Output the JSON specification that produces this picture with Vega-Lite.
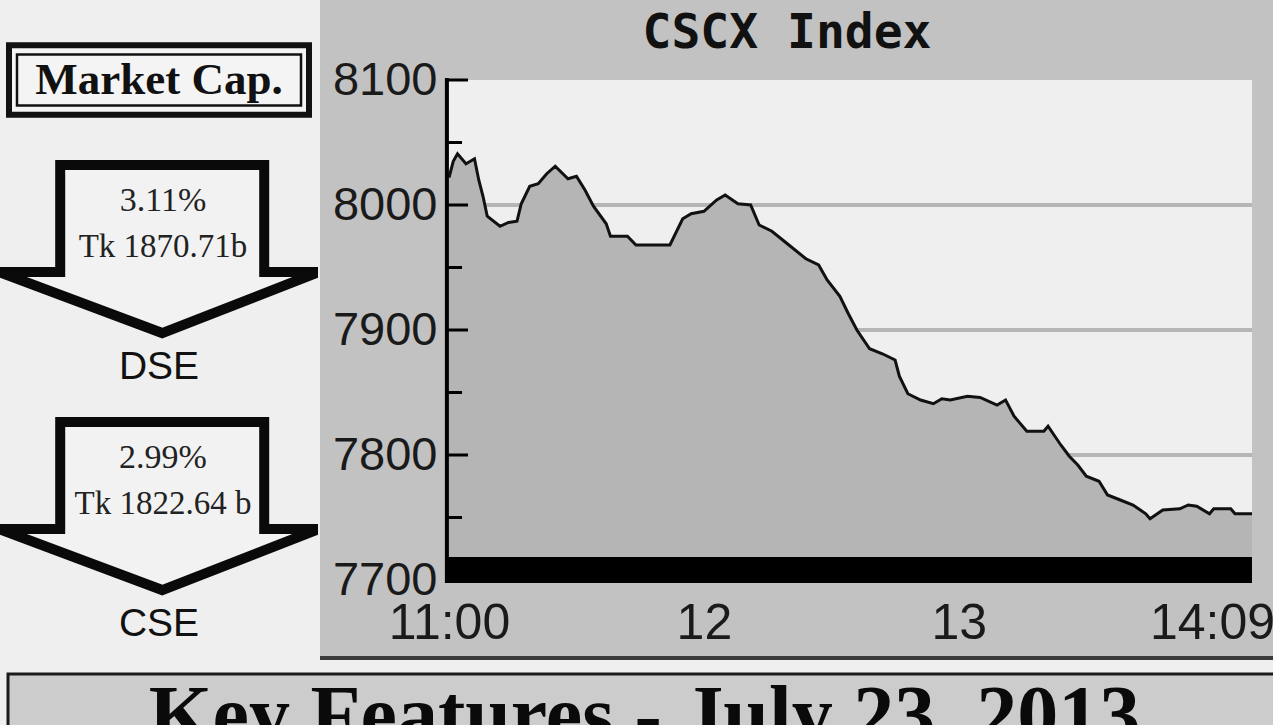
{
  "$schema": "https://vega.github.io/schema/vega-lite/v6.json",
  "background": "#efefef",
  "padding": 0,
  "spacing": 0,
  "config": {"view": {"stroke": null}},
  "datasets": {
    "cscx": [
      {"t": "2013-07-23T11:00", "v": 8022}, {"t": "2013-07-23T11:01", "v": 8035}, {"t": "2013-07-23T11:02", "v": 8041},
      {"t": "2013-07-23T11:04", "v": 8033}, {"t": "2013-07-23T11:06", "v": 8037}, {"t": "2013-07-23T11:07", "v": 8020},
      {"t": "2013-07-23T11:08", "v": 8007}, {"t": "2013-07-23T11:09", "v": 7991}, {"t": "2013-07-23T11:12", "v": 7983},
      {"t": "2013-07-23T11:14", "v": 7986}, {"t": "2013-07-23T11:16", "v": 7987}, {"t": "2013-07-23T11:17", "v": 8001},
      {"t": "2013-07-23T11:19", "v": 8015}, {"t": "2013-07-23T11:21", "v": 8017}, {"t": "2013-07-23T11:23", "v": 8025},
      {"t": "2013-07-23T11:25", "v": 8031}, {"t": "2013-07-23T11:28", "v": 8021}, {"t": "2013-07-23T11:30", "v": 8023},
      {"t": "2013-07-23T11:32", "v": 8012}, {"t": "2013-07-23T11:34", "v": 7999}, {"t": "2013-07-23T11:37", "v": 7985},
      {"t": "2013-07-23T11:38", "v": 7975}, {"t": "2013-07-23T11:42", "v": 7975}, {"t": "2013-07-23T11:44", "v": 7968},
      {"t": "2013-07-23T11:52", "v": 7968}, {"t": "2013-07-23T11:55", "v": 7989}, {"t": "2013-07-23T11:57", "v": 7993},
      {"t": "2013-07-23T12:00", "v": 7995}, {"t": "2013-07-23T12:03", "v": 8004}, {"t": "2013-07-23T12:05", "v": 8008},
      {"t": "2013-07-23T12:08", "v": 8001}, {"t": "2013-07-23T12:11", "v": 8000}, {"t": "2013-07-23T12:13", "v": 7984},
      {"t": "2013-07-23T12:16", "v": 7979}, {"t": "2013-07-23T12:20", "v": 7968}, {"t": "2013-07-23T12:24", "v": 7957},
      {"t": "2013-07-23T12:27", "v": 7952}, {"t": "2013-07-23T12:29", "v": 7940}, {"t": "2013-07-23T12:32", "v": 7927},
      {"t": "2013-07-23T12:34", "v": 7913}, {"t": "2013-07-23T12:36", "v": 7900}, {"t": "2013-07-23T12:39", "v": 7885},
      {"t": "2013-07-23T12:42", "v": 7881}, {"t": "2013-07-23T12:45", "v": 7876}, {"t": "2013-07-23T12:46", "v": 7863},
      {"t": "2013-07-23T12:48", "v": 7849}, {"t": "2013-07-23T12:51", "v": 7844}, {"t": "2013-07-23T12:54", "v": 7841},
      {"t": "2013-07-23T12:56", "v": 7845}, {"t": "2013-07-23T12:58", "v": 7844}, {"t": "2013-07-23T13:02", "v": 7847},
      {"t": "2013-07-23T13:05", "v": 7846}, {"t": "2013-07-23T13:09", "v": 7840}, {"t": "2013-07-23T13:11", "v": 7844},
      {"t": "2013-07-23T13:13", "v": 7831}, {"t": "2013-07-23T13:16", "v": 7819}, {"t": "2013-07-23T13:20", "v": 7819},
      {"t": "2013-07-23T13:21", "v": 7823}, {"t": "2013-07-23T13:24", "v": 7808}, {"t": "2013-07-23T13:26", "v": 7799},
      {"t": "2013-07-23T13:28", "v": 7792}, {"t": "2013-07-23T13:30", "v": 7783}, {"t": "2013-07-23T13:33", "v": 7779},
      {"t": "2013-07-23T13:35", "v": 7768}, {"t": "2013-07-23T13:38", "v": 7764}, {"t": "2013-07-23T13:41", "v": 7760},
      {"t": "2013-07-23T13:44", "v": 7753}, {"t": "2013-07-23T13:45", "v": 7749}, {"t": "2013-07-23T13:48", "v": 7756},
      {"t": "2013-07-23T13:52", "v": 7757}, {"t": "2013-07-23T13:54", "v": 7760}, {"t": "2013-07-23T13:56", "v": 7759},
      {"t": "2013-07-23T13:59", "v": 7753}, {"t": "2013-07-23T14:00", "v": 7757}, {"t": "2013-07-23T14:04", "v": 7757},
      {"t": "2013-07-23T14:05", "v": 7753}, {"t": "2013-07-23T14:09", "v": 7753}
    ]
  },
  "vconcat": [
    {
      "spacing": 0,
      "hconcat": [
        {
          "spacing": 0,
          "vconcat": [
            {
              "width": 318,
              "height": 160,
              "view": {"fill": "#efefef", "stroke": null},
              "data": {"values": [{"heading": "Market Cap."}]},
              "layer": [
                {
                  "mark": {"type": "point", "shape": "M -1 -0.2317 L 1 -0.2317 L 1 0.2317 L -1 0.2317 Z", "size": 90000, "filled": true, "fill": "#f4f4f4", "stroke": "#111111", "strokeWidth": 6, "opacity": 1, "clip": true},
                  "encoding": {}
                },
                {
                  "mark": {"type": "point", "shape": "M -0.9467 -0.17 L 0.9467 -0.17 L 0.9467 0.17 L -0.9467 0.17 Z", "size": 90000, "filled": false, "stroke": "#111111", "strokeWidth": 2.5, "opacity": 1, "clip": true},
                  "encoding": {}
                },
                {
                  "mark": {"type": "text", "font": "Liberation Serif", "fontWeight": "bold", "fontSize": 45, "color": "#111111", "baseline": "middle", "clip": true},
                  "encoding": {"text": {"field": "heading"}}
                }
              ]
            },
            {
              "width": 318,
              "height": 500,
              "view": {"fill": "#efefef", "stroke": null},
              "data": {"values": [
                {"exchange": "DSE", "change": "3.11%", "cap": "Tk 1870.71b"},
                {"exchange": "CSE", "change": "2.99%", "cap": "Tk 1822.64 b"}
              ]},
              "encoding": {
                "y": {"field": "exchange", "type": "nominal", "scale": {"type": "point", "domain": ["DSE", "CSE"], "range": [90, 347], "padding": 0}, "axis": null}
              },
              "layer": [
                {
                  "mark": {"type": "point", "shape": "M -0.6175 -0.531 L 0.6575 -0.531 L 0.6575 0.1375 L 1.0 0.1375 L 0.02 0.519 L -1.0 0.1375 L -0.6175 0.1375 Z", "size": 102400, "filled": true, "fill": "#f2f2f2", "stroke": "#0a0a0a", "strokeWidth": 10, "opacity": 1, "clip": true}
                },
                {
                  "mark": {"type": "text", "font": "Liberation Serif", "fontSize": 34, "color": "#222222", "baseline": "middle", "dx": 4, "dy": -49, "clip": true},
                  "encoding": {"text": {"field": "change"}}
                },
                {
                  "mark": {"type": "text", "font": "Liberation Serif", "fontSize": 33, "color": "#222222", "baseline": "middle", "dx": 4, "dy": -3, "clip": true},
                  "encoding": {"text": {"field": "cap"}}
                },
                {
                  "mark": {"type": "text", "font": "Liberation Sans", "fontSize": 39, "color": "#111111", "baseline": "middle", "dy": 117, "clip": true},
                  "encoding": {"text": {"field": "exchange"}}
                }
              ]
            }
          ]
        },
        {
          "width": 955,
          "height": 660,
          "view": {"fill": "#c2c2c2", "stroke": null},
          "data": {"name": "cscx"},
          "layer": [
            {
              "data": {"values": [{}]},
              "mark": {"type": "rect", "color": "#efefef"},
              "encoding": {
                "x": {"datum": {"year": 2013, "month": 7, "date": 23, "hours": 11}, "type": "temporal"},
                "x2": {"datum": {"year": 2013, "month": 7, "date": 23, "hours": 14, "minutes": 9}},
                "y": {"datum": 7700, "type": "quantitative"},
                "y2": {"datum": 8100}
              }
            },
            {
              "data": {"values": [{"v": 8000}, {"v": 7900}, {"v": 7800}]},
              "mark": {"type": "rule", "color": "#b6b6b6", "strokeWidth": 4},
              "encoding": {
                "x": {"datum": {"year": 2013, "month": 7, "date": 23, "hours": 11}, "type": "temporal"},
                "x2": {"datum": {"year": 2013, "month": 7, "date": 23, "hours": 14, "minutes": 9}},
                "y": {"field": "v", "type": "quantitative"}
              }
            },
            {
              "mark": {"type": "area", "color": "#b5b5b5", "opacity": 1},
              "encoding": {
                "x": {
                  "field": "t", "type": "temporal",
                  "scale": {"domain": [{"year": 2013, "month": 7, "date": 23, "hours": 10, "minutes": 29, "seconds": 38}, {"year": 2013, "month": 7, "date": 23, "hours": 14, "minutes": 14, "seconds": 25}], "nice": false},
                  "axis": {
                    "title": null, "orient": "bottom", "offset": -80, "domain": false, "ticks": false, "grid": false,
                    "values": [{"year": 2013, "month": 7, "date": 23, "hours": 11}, {"year": 2013, "month": 7, "date": 23, "hours": 12}, {"year": 2013, "month": 7, "date": 23, "hours": 13}, {"year": 2013, "month": 7, "date": 23, "hours": 14, "minutes": 9}],
                    "labelExpr": "hours(datum.value) == 11 ? '11:00' : hours(datum.value) == 14 ? '14:09' : '' + hours(datum.value)",
                    "labelFont": "Liberation Sans", "labelFontSize": 50, "labelColor": "#1a1a1a", "labelPadding": 18,
                    "labelBaseline": "top", "labelAlign": "center",
                    "labelOffset": {"condition": {"test": "hours(datum.value) == 14", "value": -40}, "value": 0},
                    "labelOverlap": false, "labelFlush": false, "labelBound": false
                  }
                },
                "y": {
                  "field": "v", "type": "quantitative",
                  "scale": {"domain": [7636, 8164], "nice": false, "zero": false},
                  "axis": {
                    "title": null, "orient": "left", "offset": -129, "domain": false, "ticks": false, "grid": false,
                    "values": [7700, 7800, 7900, 8000, 8100], "format": "d",
                    "labelFont": "Liberation Sans", "labelFontSize": 47, "labelColor": "#1a1a1a", "labelPadding": 12,
                    "labelOverlap": false, "labelFlush": false, "labelBound": false
                  }
                },
                "y2": {"datum": 7700}
              }
            },
            {
              "mark": {"type": "line", "color": "#111111", "strokeWidth": 3},
              "encoding": {
                "x": {"field": "t", "type": "temporal"},
                "y": {"field": "v", "type": "quantitative"}
              }
            },
            {
              "data": {"values": [{}]},
              "mark": {"type": "rect", "color": "#000000"},
              "encoding": {
                "x": {"datum": {"year": 2013, "month": 7, "date": 23, "hours": 10, "minutes": 59, "seconds": 30}, "type": "temporal"},
                "x2": {"datum": {"year": 2013, "month": 7, "date": 23, "hours": 14, "minutes": 9}},
                "y": {"datum": 7697.6, "type": "quantitative"},
                "y2": {"datum": 7718.4}
              }
            },
            {
              "data": {"values": [{}]},
              "mark": {"type": "rule", "color": "#000000", "strokeWidth": 4},
              "encoding": {
                "x": {"datum": {"year": 2013, "month": 7, "date": 23, "hours": 10, "minutes": 59, "seconds": 30}, "type": "temporal"},
                "y": {"datum": 7697.6, "type": "quantitative"},
                "y2": {"datum": 8101.6}
              }
            },
            {
              "data": {"values": [{"v": 8100}, {"v": 8000}, {"v": 7900}, {"v": 7800}]},
              "mark": {"type": "rule", "color": "#000000", "strokeWidth": 3},
              "encoding": {
                "x": {"datum": {"year": 2013, "month": 7, "date": 23, "hours": 10, "minutes": 59, "seconds": 30}, "type": "temporal"},
                "x2": {"datum": {"year": 2013, "month": 7, "date": 23, "hours": 11, "minutes": 4, "seconds": 28}},
                "y": {"field": "v", "type": "quantitative"}
              }
            },
            {
              "data": {"values": [{"v": 8050}, {"v": 7950}, {"v": 7850}, {"v": 7750}]},
              "mark": {"type": "rule", "color": "#000000", "strokeWidth": 3},
              "encoding": {
                "x": {"datum": {"year": 2013, "month": 7, "date": 23, "hours": 10, "minutes": 59, "seconds": 30}, "type": "temporal"},
                "x2": {"datum": {"year": 2013, "month": 7, "date": 23, "hours": 11, "minutes": 3, "seconds": 4}},
                "y": {"field": "v", "type": "quantitative"}
              }
            },
            {
              "data": {"values": [{}]},
              "mark": {"type": "rule", "color": "#3a3a3a", "strokeWidth": 4},
              "encoding": {
                "x": {"datum": {"year": 2013, "month": 7, "date": 23, "hours": 10, "minutes": 29, "seconds": 38}, "type": "temporal"},
                "x2": {"datum": {"year": 2013, "month": 7, "date": 23, "hours": 14, "minutes": 14, "seconds": 25}},
                "y": {"datum": 7637.6, "type": "quantitative"}
              }
            },
            {
              "data": {"values": [{"label": "CSCX Index"}]},
              "mark": {"type": "text", "font": "DejaVu Sans Mono", "fontSize": 48, "fontWeight": "bold", "color": "#111111", "align": "center", "baseline": "alphabetic"},
              "encoding": {
                "x": {"datum": {"year": 2013, "month": 7, "date": 23, "hours": 12, "minutes": 19, "seconds": 33}, "type": "temporal"},
                "y": {"datum": 8125.6, "type": "quantitative"},
                "text": {"field": "label"}
              }
            }
          ]
        }
      ]
    },
    {
      "width": 1273,
      "height": 65,
      "view": {"fill": "#efefef", "stroke": null},
      "data": {"values": [{"caption": "Key Features - July 23, 2013"}]},
      "layer": [
        {
          "mark": {"type": "point", "shape": "M -0.9669 -0.02846 L 1.0208 -0.02846 L 1.0208 0.1346 L -0.9669 0.1346 Z", "size": 1690000, "filled": true, "fill": "#cccccc", "stroke": "#1a1a1a", "strokeWidth": 3, "opacity": 1, "clip": true},
          "encoding": {}
        },
        {
          "mark": {"type": "text", "font": "Liberation Serif", "fontWeight": "bold", "fontSize": 82, "color": "#0a0a0a", "baseline": "alphabetic", "dx": 8, "dy": 49.5, "clip": true},
          "encoding": {"text": {"field": "caption"}}
        }
      ]
    }
  ]
}
